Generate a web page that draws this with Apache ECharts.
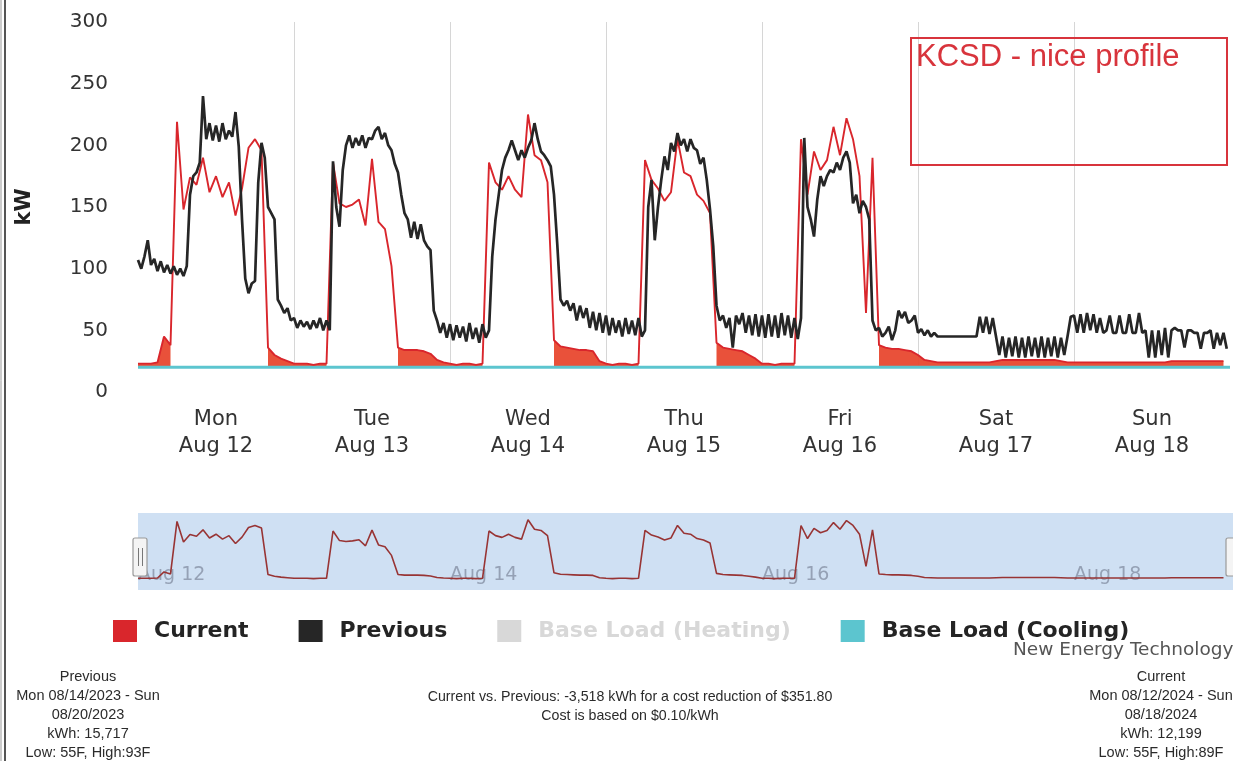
<!DOCTYPE html>
<html>
<head>
<meta charset="utf-8">
<script src="https://cdn.jsdelivr.net/npm/echarts@6/dist/echarts.min.js"></script>
<style>
html,body{margin:0;padding:0;background:#fff;}
#chart{width:1233px;height:761px;}
</style>
</head>
<body>
<div id="chart"></div>
<script>
// ---------- data ----------
const dayNames = ['Mon', 'Tue', 'Wed', 'Thu', 'Fri', 'Sat', 'Sun'];
const dayDates = ['Aug 12', 'Aug 13', 'Aug 14', 'Aug 15', 'Aug 16', 'Aug 17', 'Aug 18'];
const navigatorLabels = ['Aug 12', 'Aug 14', 'Aug 16', 'Aug 18'];
const yMin = 0, yMax = 300, yStep = 50;
const hoursInWeek = 168;

// Current week (hourly kW, Mon 00:00 .. Sun 23:00)
const current = [
  23,23,23,24,45,38,219,148,174,168,190,162,175,158,170,143,165,198,205,196,36,30,27,25,
  23,23,23,22,23,23,186,153,150,152,156,135,189,138,132,102,36,34,34,34,33,31,26,24,
  23,22,23,23,22,23,186,170,164,175,164,158,225,192,188,170,42,37,36,35,34,34,33,25,
  23,22,23,23,22,23,188,172,165,155,162,205,178,175,160,155,145,40,36,35,34,33,30,27,
  23,23,22,23,23,23,205,160,195,180,188,215,192,222,205,175,64,190,38,36,35,35,34,33,
  30,26,25,24,24,24,24,24,24,24,24,24,25,26,26,26,26,26,26,26,26,26,25,24,
  24,24,24,24,24,24,24,24,24,24,24,24,24,24,24,25,25,25,25,25,25,25,25,25
];
const currentStepH = 1;

// Previous year's week (half-hourly kW)
const previous = [
  107,100,110,123,103,108,98,106,97,103,96,102,95,100,94,102,
  160,175,178,186,240,205,218,204,216,203,218,205,212,207,227,199,
  140,92,80,88,90,170,202,190,150,145,140,75,70,64,68,58,
  60,52,58,53,57,51,58,52,60,50,58,50,
  187,150,134,180,200,208,198,206,200,208,198,206,
  205,212,215,205,210,200,196,185,178,160,145,140,
  125,138,124,136,123,118,115,66,58,48,56,44,
  55,42,54,44,53,41,56,43,52,40,55,44,
  50,110,140,160,180,190,196,204,196,188,196,190,
  198,204,218,205,195,192,188,183,160,120,75,70,
  74,66,72,58,70,60,68,52,65,50,64,48,
  62,46,60,48,58,45,60,47,58,46,60,45,
  50,150,172,123,150,172,191,180,202,195,210,200,
  205,195,205,198,196,185,190,172,148,118,70,58,
  62,52,60,36,62,55,64,48,62,46,63,45,
  62,44,63,45,62,44,64,46,62,44,60,43,
  60,206,150,140,126,156,175,167,175,180,178,186,
  180,190,195,186,153,160,145,155,150,140,58,50,
  52,45,48,53,42,50,66,60,65,56,58,62,
  48,51,46,50,45,48,45,45,45,45,45,45,
  45,45,45,45,45,45,45,61,48,61,47,60,
  45,30,45,28,44,29,45,28,44,28,45,29,
  44,28,45,28,44,29,45,28,44,30,45,61,
  62,48,63,48,64,50,63,48,60,48,50,62,
  48,48,62,48,48,63,48,48,64,48,50,28,
  50,28,50,30,52,28,50,52,50,50,36,50,
  50,48,48,35,48,48,50,35,48,38,48,35
];
const previousStepH = 0.5;

// Base load (cooling), flat level
const baseCoolingKw = 20;
// the current curve is shaded down to the base load where it runs below this level
const fillBelowKw = 50;

// ---------- build series data ----------
const currentPts = current.map((v, i) => [i * currentStepH, v]);
const previousPts = previous.map((v, i) => [i * previousStepH, v]);
const coolingPts = [];
for (let h = 0; h <= hoursInWeek; h++) coolingPts.push([h, baseCoolingKw]);
const fillPts = current.map((v, i) => [i * currentStepH, v < fillBelowKw ? v : null]);

const chart = echarts.init(document.getElementById('chart'), null, {renderer: 'canvas'});

const FONT = 'DejaVu Sans';
const SMALL = 'Liberation Sans';

function block(lines, cx, top, size, lh) {
  return lines.map((t, k) => ({
    type: 'text', x: cx, y: top + k * lh, silent: true,
    style: {text: t, fill: '#2b2b2b', font: size + 'px "' + SMALL + '"', textAlign: 'center', textVerticalAlign: 'middle'}
  }));
}

const option = {
  animation: false,
  backgroundColor: '#fff',
  grid: [
    {left: 138, right: 0, top: 22, bottom: 369},
    {left: 138, right: 0, top: 513, height: 72}
  ],
  xAxis: [
    { // day boundary lines
      type: 'value', gridIndex: 0, min: 0, max: hoursInWeek, interval: 24,
      axisLine: {show: false}, axisTick: {show: false}, axisLabel: {show: false},
      splitLine: {show: true, showMinLine: false, showMaxLine: false, lineStyle: {color: '#d6d6d6', width: 1}}
    },
    { // day labels at midday
      type: 'value', gridIndex: 0, min: 0, max: hoursInWeek, interval: 12, position: 'bottom',
      axisLine: {show: false}, axisTick: {show: false}, splitLine: {show: false},
      axisLabel: {
        margin: 14, fontSize: 21, lineHeight: 27, color: '#333', fontFamily: FONT,
        formatter: v => (v % 24 === 12) ? dayNames[(v - 12) / 24] + '\n' + dayDates[(v - 12) / 24] : ''
      }
    },
    { // navigator axis
      type: 'value', gridIndex: 1, min: 0, max: hoursInWeek, interval: 48,
      axisLine: {show: false}, axisTick: {show: false},
      splitLine: {show: false},
      axisLabel: {
        inside: true, margin: 0, align: 'left', fontSize: 19, color: 'rgba(130,140,160,0.75)', fontFamily: FONT,
        formatter: v => navigatorLabels[v / 48] || ''
      }
    }
  ],
  yAxis: [
    {
      type: 'value', gridIndex: 0, min: yMin, max: yMax, interval: yStep,
      axisLine: {show: false}, axisTick: {show: false}, splitLine: {show: false},
      axisLabel: {margin: 30, fontSize: 20, color: '#333', fontFamily: FONT},
      name: 'kW', nameLocation: 'middle', nameRotate: 90, nameGap: 103,
      nameTextStyle: {fontSize: 21, fontWeight: 'bold', color: '#222', fontFamily: FONT}
    },
    {type: 'value', gridIndex: 1, min: 0, max: 248, show: false}
  ],
  legend: {
    left: 113, top: 620, padding: 0, itemWidth: 24, itemHeight: 22, itemGap: 50, icon: 'rect',
    data: ['Current', 'Previous', 'Base Load (Heating)', 'Base Load (Cooling)'],
    selected: {'Base Load (Heating)': false},
    inactiveColor: '#d8d8d8',
    textStyle: {fontSize: 22, fontWeight: 'bold', color: '#242424', fontFamily: FONT, padding: [0, 0, 0, 12]}
  },
  series: [
    {
      name: 'Current fill', type: 'line', xAxisIndex: 0, yAxisIndex: 0,
      data: fillPts, showSymbol: false, symbol: 'none', z: 2, connectNulls: false,
      lineStyle: {width: 0, opacity: 0}, areaStyle: {color: '#e8482f', opacity: 0.95}, silent: true
    },
    {
      name: 'Base Load (Cooling)', type: 'line', xAxisIndex: 0, yAxisIndex: 0,
      data: coolingPts, showSymbol: false, symbol: 'none', z: 5,
      itemStyle: {color: '#5cc5cf'}, lineStyle: {color: '#5cc5cf', width: 3},
      areaStyle: {color: '#ffffff', opacity: 1}, silent: true
    },
    {
      name: 'Current', type: 'line', xAxisIndex: 0, yAxisIndex: 0,
      data: currentPts, showSymbol: false, symbol: 'none', z: 6,
      itemStyle: {color: '#d9262c'}, lineStyle: {color: '#d9262c', width: 1.9}, silent: true
    },
    {
      name: 'Previous', type: 'line', xAxisIndex: 0, yAxisIndex: 0,
      data: previousPts, showSymbol: false, symbol: 'none', z: 7,
      itemStyle: {color: '#262626'}, lineStyle: {color: '#262626', width: 2.7}, silent: true
    },
    {
      name: 'Base Load (Heating)', type: 'line', xAxisIndex: 0, yAxisIndex: 0,
      data: [], itemStyle: {color: '#cfcfcf'}, lineStyle: {color: '#cfcfcf'}
    },
    {
      name: 'Navigator', type: 'line', xAxisIndex: 2, yAxisIndex: 1,
      data: currentPts, showSymbol: false, symbol: 'none', z: 3,
      lineStyle: {color: '#983434', width: 1.6}, silent: true
    }
  ],
  graphic: [
    // navigator background
    {type: 'rect', z: -1, silent: true, shape: {x: 138, y: 513, width: 1095, height: 77}, style: {fill: '#cfe0f3'}},
    // navigator handles
    {type: 'rect', z: 10, silent: true, shape: {x: 133, y: 538, width: 14, height: 38, r: 2}, style: {fill: '#f4f4f4', stroke: '#9a9a9a', lineWidth: 1.2}},
    {type: 'line', z: 11, silent: true, shape: {x1: 138.5, y1: 548, x2: 138.5, y2: 566}, style: {stroke: '#777', lineWidth: 1}},
    {type: 'line', z: 11, silent: true, shape: {x1: 142.5, y1: 548, x2: 142.5, y2: 566}, style: {stroke: '#777', lineWidth: 1}},
    {type: 'rect', z: 10, silent: true, shape: {x: 1226, y: 538, width: 14, height: 38, r: 2}, style: {fill: '#f4f4f4', stroke: '#9a9a9a', lineWidth: 1.2}},
    // scanned page border
    {type: 'line', silent: true, shape: {x1: 5, y1: 0, x2: 5, y2: 761}, style: {stroke: '#555', lineWidth: 2}},
    {type: 'line', silent: true, shape: {x1: 1, y1: 0, x2: 1, y2: 761}, style: {stroke: '#999', lineWidth: 1}},
    // annotation box
    {type: 'rect', z: 20, silent: true, shape: {x: 911, y: 38, width: 316, height: 127}, style: {fill: 'rgba(255,255,255,0)', stroke: '#d8343c', lineWidth: 2}},
    {type: 'text', z: 21, silent: true, x: 916, y: 57, style: {text: 'KCSD - nice profile', fill: '#d8343c', font: '31px "Liberation Sans"', textVerticalAlign: 'middle'}},
    // watermark text
    {type: 'text', silent: true, x: 1013, y: 650, style: {text: 'New Energy Technology', fill: '#555', font: '18.5px "DejaVu Sans"', textVerticalAlign: 'middle'}},
    // bottom info blocks
    ...block(['Previous', 'Mon 08/14/2023 - Sun', '08/20/2023', 'kWh: 15,717', 'Low: 55F, High:93F'], 88, 677, 14.5, 19),
    ...block(['Current vs. Previous: -3,518 kWh for a cost reduction of $351.80', 'Cost is based on $0.10/kWh'], 630, 697, 14.2, 19),
    ...block(['Current', 'Mon 08/12/2024 - Sun', '08/18/2024', 'kWh: 12,199', 'Low: 55F, High:89F'], 1161, 677, 14.5, 19)
  ]
};
chart.setOption(option);
</script>
</body>
</html>
